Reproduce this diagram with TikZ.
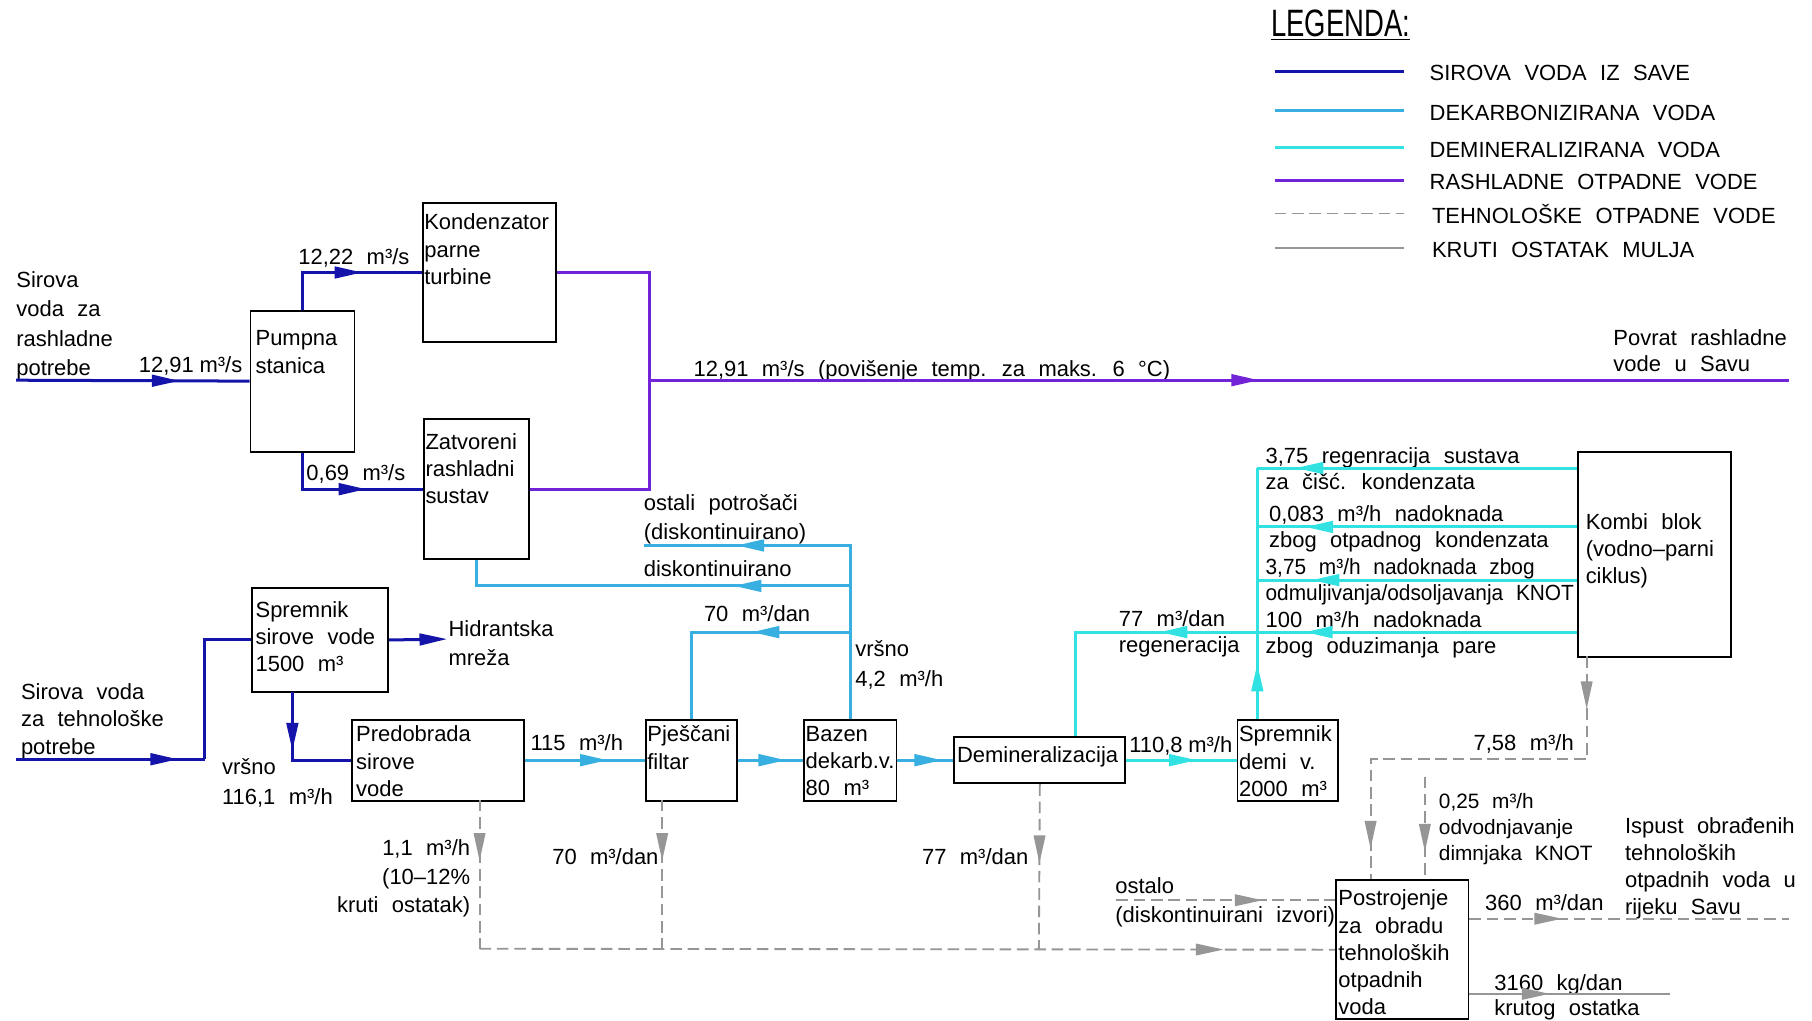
\documentclass[tikz,border=0pt]{standalone}
\usepackage{fontspec}
\setmainfont{Liberation Sans}[WordSpace=2.2]
\usetikzlibrary{arrows.meta,decorations.markings}
\definecolor{csir}{RGB}{20,20,170}
\definecolor{cdek}{RGB}{55,175,225}
\definecolor{cdem}{RGB}{50,225,225}
\definecolor{cras}{RGB}{115,35,215}
\definecolor{cgry}{RGB}{150,150,150}
\begin{document}
\begin{tikzpicture}[x=1pt,y=-1pt,
  font=\fontsize{19}{23.5}\selectfont,
  box/.style={draw=black,line width=1.6pt,inner sep=0pt,anchor=north west},
  txt/.style={anchor=north west,inner sep=0pt,align=left},
  lbl/.style={anchor=base west,inner sep=0pt},
  ar/.style={postaction={decorate,decoration={markings,mark=at position #1 with {\arrow{Triangle[length=24pt,width=10pt]}}}}},
  lsir/.style={draw=csir,line width=2.6pt},
  ldek/.style={draw=cdek,line width=2.6pt},
  ldem/.style={draw=cdem,line width=2.6pt},
  lras/.style={draw=cras,line width=2.6pt},
  ltech/.style={draw=cgry,line width=1.6pt,dash pattern=on 10pt off 5pt},
  lkrut/.style={draw=cgry,line width=1.8pt}]
\fill[white] (0,0) rectangle (1568,883);
\useasboundingbox (0,0) rectangle (1568,883);

% ---------- legend ----------
\node[lbl,xscale=0.72,font=\fontsize{33}{33}\selectfont] (leg) at (1100,32) {\underline{LEGENDA:}};
\coordinate (la1) at (1103,62);  \coordinate (lb1) at (1215,62);
\coordinate (la2) at (1103,96);  \coordinate (lb2) at (1215,96);
\coordinate (la3) at (1103,128); \coordinate (lb3) at (1215,128);
\coordinate (la4) at (1103,156); \coordinate (lb4) at (1215,156);
\coordinate (la5) at (1103,185); \coordinate (lb5) at (1215,185);
\coordinate (la6) at (1103,215); \coordinate (lb6) at (1215,215);
\draw[lsir] (la1) -- (lb1);
\draw[ldek] (la2) -- (lb2);
\draw[ldem] (la3) -- (lb3);
\draw[lras] (la4) -- (lb4);
\draw[ltech,line width=1.2pt] (la5) -- (lb5);
\draw[lkrut] (la6) -- (lb6);
\node[lbl] (lt1) at (1237,70)  {SIROVA VODA IZ SAVE};
\node[lbl] (lt2) at (1237,104) {DEKARBONIZIRANA VODA};
\node[lbl] (lt3) at (1237,136) {DEMINERALIZIRANA VODA};
\node[lbl] (lt4) at (1237,164) {RASHLADNE OTPADNE VODE};
\node[lbl] (lt5) at (1239,193) {TEHNOLOŠKE OTPADNE VODE};
\node[lbl] (lt6) at (1239,223) {KRUTI OSTATAK MULJA};

% ---------- boxes ----------
\node[box,minimum width=90pt,minimum height=122pt]  (pump)  at (216,268) {};
\node[box,minimum width=115pt,minimum height=120pt] (kond)  at (365,175) {};
\node[box,minimum width=91pt,minimum height=121pt]  (zatv)  at (366,362) {};
\node[box,minimum width=118pt,minimum height=90pt]  (sprs)  at (217,508) {};
\node[box,minimum width=149pt,minimum height=70pt]  (pred)  at (304,622) {};
\node[box,minimum width=79pt,minimum height=70pt]   (pjes)  at (558,622) {};
\node[box,minimum width=80pt,minimum height=70pt]   (baz)   at (695,622) {};
\node[box,minimum width=148pt,minimum height=40pt]  (demi)  at (825,637) {};
\node[box,minimum width=87pt,minimum height=70pt]   (sprd)  at (1070,622) {};
\node[box,minimum width=132pt,minimum height=178pt] (kombi) at (1365,390) {};
\node[box,minimum width=115pt,minimum height=120pt] (post)  at (1155,761) {};

\node[txt] (tkond)  at (367,185)  {Kondenzator\\parne\\turbine};
\node[txt] (tpump)  at (221,286)  {Pumpna\\stanica};
\node[txt] (tzatv)  at (368,375)  {Zatvoreni\\rashladni\\sustav};
\node[txt] (tsprs)  at (221,520)  {Spremnik\\sirove vode\\1500 m³};
\node[txt] (tpred)  at (308,628)  {Predobrada\\sirove\\vode};
\node[txt] (tpjes)  at (560,628)  {Pješčani\\filtar};
\node[txt] (tbaz)   at (697,628)  {Bazen\\dekarb.v.\\80 m³};
\node[txt] (tdemi)  at (828,646)  {Demineralizacija};
\node[txt] (tsprd)  at (1072,628) {Spremnik\\demi v.\\2000 m³};
\node[txt] (tkombi) at (1372,444) {Kombi blok\\(vodno–parni\\ciklus)};
\node[txt] (tpost)  at (1158,770) {Postrojenje\\za obradu\\tehnoloških\\otpadnih\\voda};

% ---------- labels ----------
\node[txt,font=\fontsize{19}{25.3}\selectfont] (ls1) at (14,235) {Sirova\\voda za\\rashladne\\potrebe};
\node[lbl] (l1291) at (120,322) {12,91\hspace{5pt}m³/s};
\node[lbl] (l1222) at (258,229) {12,22 m³/s};
\node[lbl] (l069)  at (265,416) {0,69 m³/s};
\node[txt,font=\fontsize{19}{24}\selectfont] (ls2) at (18,591) {Sirova voda\\za tehnološke\\potrebe};
\node[txt,font=\fontsize{19}{25}\selectfont] (lhid) at (388,537) {Hidrantska\\mreža};
\node[txt,font=\fontsize{19}{26}\selectfont] (lvr1) at (192,656) {vršno\\116,1 m³/h};
\node[lbl] (l115)  at (459,649) {115 m³/h};
\node[lbl] (lpov)  at (600,326) {12,91 m³/s (povišenje temp. za maks. 6 °C)};
\node[txt,font=\fontsize{19}{22.5}\selectfont] (lpovr) at (1396,285) {Povrat rashladne\\vode u Savu};
\node[txt,font=\fontsize{19}{25}\selectfont] (lost) at (557,428) {ostali potrošači\\(diskontinuirano)};
\node[lbl] (ldisk) at (557,499) {diskontinuirano};
\node[lbl] (l70a)  at (609,538) {70 m³/dan};
\node[txt,font=\fontsize{19}{26}\selectfont] (lvr2) at (740,554) {vršno\\4,2 m³/h};
\node[txt,font=\fontsize{19}{23}\selectfont] (l77a) at (968,528) {77 m³/dan\\regeneracija};
\node[lbl] (l1108) at (977,651) {110,8\hspace{5pt}m³/h};
\node[txt,font=\fontsize{19}{23}\selectfont] (lr1) at (1095,387) {3,75 regenracija sustava\\za čišć. kondenzata};
\node[txt,font=\fontsize{19}{22.5}\selectfont] (lr2) at (1098,437) {0,083 m³/h nadoknada\\zbog otpadnog kondenzata};
\node[txt,font=\fontsize{19}{23}\selectfont,xscale=0.95] (lr3) at (1095,483) {3,75 m³/h nadoknada zbog\\odmuljivanja/odsoljavanja KNOT};
\node[txt,font=\fontsize{19}{22.5}\selectfont] (lr4) at (1095,529) {100 m³/h nadoknada\\zbog oduzimanja pare};
\node[anchor=north east,inner sep=0pt,align=right,font=\fontsize{19}{25}\selectfont] (l11) at (407,726) {1,1 m³/h\\(10–12\%\\kruti ostatak)};
\node[anchor=base east,inner sep=0pt] (l70b) at (570,748) {70 m³/dan};
\node[anchor=base east,inner sep=0pt] (l77b) at (890,748) {77 m³/dan};
\node[txt,font=\fontsize{19}{25}\selectfont] (lostalo) at (965,759) {ostalo\\(diskontinuirani izvori)};
\node[lbl] (l758) at (1275,649) {7,58 m³/h};
\node[txt,font=\fontsize{18}{22.5}\selectfont] (l025) at (1245,686) {0,25 m³/h\\odvodnjavanje\\dimnjaka KNOT};
\node[txt,font=\fontsize{19}{23.5}\selectfont] (lisp) at (1406,707) {Ispust obrađenih\\tehnoloških\\otpadnih voda u\\rijeku Savu};
\node[lbl] (l360) at (1285,788) {360 m³/dan};
\node[txt,font=\fontsize{19}{21.5}\selectfont] (l3160) at (1293,843) {3160 kg/dan\\krutog ostatka};

% ---------- raw water (blue) ----------
\coordinate (in1) at (14,329);
\coordinate (in2) at (14,657);
\coordinate (j2) at (177,657);
\coordinate (hidp) at (387,553);
\coordinate (sd) at (253,599);
\draw[lsir,ar=0.70] (in1) -- (pump.west);
\draw[lsir,ar=0.62] (pump.north) |- (kond.west);
\draw[lsir,ar=0.64] (pump.south) |- (zatv.west);
\draw[lsir,ar=0.86] (in2) -- (j2);
\draw[lsir] (j2) |- (sprs.west);
\draw[lsir,-{Triangle[length=24pt,width=10pt]}] (sprs.east) -- (hidp);
\draw[lsir,ar=0.46] (sd) |- (pred.west);

% ---------- cooling return (purple) ----------
\coordinate (rj) at (562,329);
\coordinate (rend) at (1548,329);
\draw[lras] (kond.east) -| (rj) |- (zatv.east);
\draw[lras,ar=0.535] (rj) -- (rend);

% ---------- decarbonised water ----------
\coordinate (op) at (557,472);
\coordinate (b507) at (735,507);
\coordinate (b547) at (735,547);
\draw[ldek,ar=0.69] (pred.east) -- (pjes.west);
\draw[ldek,ar=0.74] (pjes.east) -- (baz.west);
\draw[ldek,ar=0.80] (baz.east) -- (demi.west);
\draw[ldek,ar=0.756] (baz.north) |- (op);
\draw[ldek,ar=0.29] (b507) -| (zatv.south);
\draw[ldek,ar=0.40] (b547) -| (pjes.north);

% ---------- demineralised water ----------
\coordinate (sdt) at (1088,622);
\coordinate (v405) at (1088,405);
\coordinate (k405) at (1365,405);
\coordinate (v456) at (1088,456);
\coordinate (k456) at (1365,456);
\coordinate (v502) at (1088,502);
\coordinate (k502) at (1365,502);
\coordinate (k547) at (1365,547);
\coordinate (dt) at (931,637);
\draw[ldem,ar=0.64] (demi.east) -- (sprd.west);
\draw[ldem,ar=0.22] (sdt) -- (v405);
\draw[ldem,ar=0.88] (k405) -- (v405);
\draw[ldem,ar=0.85] (k456) -- (v456);
\draw[ldem,ar=0.83] (k502) -- (v502);
\draw[ldem,ar=0.45,ar=0.69] (k547) -| (dt);

% ---------- technological waste water ----------
\coordinate (pb) at (415,692);
\coordinate (pjb) at (573,692);
\coordinate (g1) at (415,821);
\coordinate (g2) at (573,821);
\coordinate (g3) at (899,821);
\coordinate (os) at (966,779);
\coordinate (kb) at (1373,568);
\coordinate (kc) at (1373,657);
\coordinate (pt1) at (1186,761);
\coordinate (f25) at (1233,672);
\coordinate (o360) at (1548,795);
\coordinate (k3160) at (1445,860);
\draw[ltech,ar=0.41] (pb) -- (g1);
\draw[ltech,ar=0.41] (pjb) -- (g2);
\draw[ltech,ar=0.48] (demi.south) -- (g3);
\draw[ltech,ar=0.87] (g1) -- (post.west);
\draw[ltech,ar=0.67] (os) -- (os -| post.west);
\draw[ltech,ar=0.12,ar=0.93] (kb) -- (kc) -| (pt1);
\draw[ltech,ar=0.73] (f25) -- (f25 |- post.north);
\draw[ltech,ar=0.29] (post.east |- o360) -- (o360);

% ---------- solid residue ----------
\draw[lkrut,ar=0.40] (post.east |- k3160) -- (k3160);
\end{tikzpicture}
\end{document}
